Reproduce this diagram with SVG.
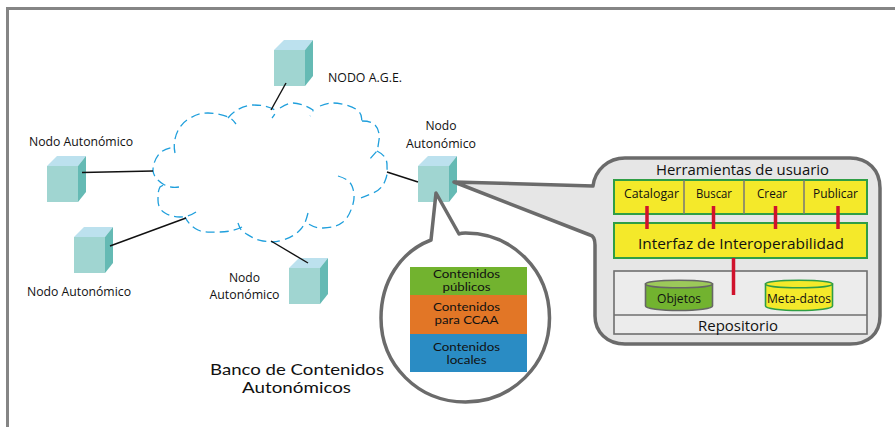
<svg xmlns="http://www.w3.org/2000/svg" width="895" height="427" viewBox="0 0 895 427">
<defs>
<style>
text{font-family:"Open Sans","Noto Sans","Liberation Sans",sans-serif;fill:#111;text-anchor:middle}
.s{font-size:13.5px}
.m{font-size:13.5px}
.c{font-size:11.5px;font-family:"Lato","Open Sans",sans-serif}
.b{font-size:16px;font-family:"Lato","Open Sans",sans-serif}
.f{fill:#a0d5d1}.t{fill:#bce1ee}.r{fill:#65bab4}
.cloud{fill:none;stroke:#1f9fdc;stroke-width:1.3;stroke-dasharray:9 5}
.link{stroke:#111;stroke-width:1.4;fill:none}
.call{fill:#e6e6e6;stroke:#6b6b6b;stroke-width:3.5;stroke-linejoin:round}
.y{fill:#f4e92a;stroke:#2f9e45;stroke-width:2}
.red{stroke:#d0122c;stroke-width:3.500;fill:none}
.g{fill:#ececec;stroke:#6f6f6f;stroke-width:1.6}
</style>
<g id="cube"><rect class="f" x="0" y="10" width="31" height="36"/><path class="t" d="M0 10L10 0H39L31 10Z"/><path class="r" d="M31 10L39 0V36L31 46Z"/></g>
</defs>
<rect width="895" height="427" fill="#fff"/>
<path d="M7.500 427V8.500H895" fill="none" stroke="#858585" stroke-width="3"/>
<g id="cloud">
<path class="cloud" d="M175 153C172 140 178 126 187 120S202 113 208 113S224 115 228 117S233 120 236 124"/>
<path class="cloud" d="M228 118C234 110 245 105 253 105S268 106 275 110C276 113 274 116 272 118"/>
<path class="cloud" d="M280 108C285 105 289 103 293 103S306 105 313 110C313 112 312 114 310 116"/>
<path class="cloud" d="M320 106C325 104 329 103 333 103S351 105 357 110S361 117 362 122"/>
<path class="cloud" d="M362 121C368 121 372 122 375 125S380 134 379 140S378 148 377 151L369 160"/>
<path class="cloud" d="M377 151C383 154 387 158 387 165S388 174 385 181S378 191 373 193S365 197 360 198"/>
<path class="cloud" d="M338 176C345 178 350 181 352 186S355 197 353 204S348 218 343 222S331 228 323 228S312 226 307 223"/>
<path class="cloud" d="M308 213C306 221 304 226 300 230S292 237 283 240S271 242 263 241S250 236 245 233S240 228 238 223"/>
<path class="cloud" d="M242 227C236 230 228 232 220 232S204 233 198 230S188 223 185 217"/>
<path class="cloud" d="M196 212C190 216 185 217 180 217S170 216 165 213S158 206 158 200S158 191 160 187L165 184"/>
<path class="cloud" d="M179 187C173 188 168 187 163 184S153 176 153 170S156 157 160 153S169 148 174 147"/>
</g>
<g id="node-age"><use href="#cube" x="274" y="40"/><text class="s" x="365" y="82" textLength="74" lengthAdjust="spacingAndGlyphs">NODO A.G.E.</text></g>
<g id="node-1"><use href="#cube" x="47" y="156"/><text class="s" x="81" y="146" textLength="104" lengthAdjust="spacingAndGlyphs">Nodo Autonómico</text></g>
<g id="node-2"><use href="#cube" x="74" y="227"/><text class="s" x="79" y="295.500" textLength="104" lengthAdjust="spacingAndGlyphs">Nodo Autonómico</text></g>
<g id="node-3"><use href="#cube" x="289" y="258"/><text class="s" x="244.500" y="282" textLength="31" lengthAdjust="spacingAndGlyphs">Nodo</text><text class="s" x="244.500" y="299" textLength="70" lengthAdjust="spacingAndGlyphs">Autonómico</text></g>
<g id="node-4"><use href="#cube" x="418" y="156"/><text class="s" x="441" y="130" textLength="31" lengthAdjust="spacingAndGlyphs">Nodo</text><text class="s" x="441" y="148" textLength="70" lengthAdjust="spacingAndGlyphs">Autonómico</text></g>
<g id="connectors">
<path class="link" d="M82 172.500L153 171"/>
<path class="link" d="M110 246L186 218"/>
<path class="link" d="M286 83L271 110"/>
<path class="link" d="M387 172L418 182"/>
<path class="link" d="M271 241L308 263"/>
</g>
<g id="banco">
<path class="call" style="fill:#fff" d="M436 193L431 240C400 252 381 282 381 318C381 365 418 402 465.500 402C512 402 549.500 365 549.500 318C549.500 270 512 233 465.500 233C463 233 461 233 459 234Z"/>
<rect x="410" y="267" width="117" height="28" fill="#72b32f"/>
<rect x="410" y="295" width="117" height="39" fill="#e27626"/>
<rect x="410" y="334" width="117" height="38" fill="#2a8cc4"/>
<text class="c" x="466.500" y="278" textLength="67" lengthAdjust="spacingAndGlyphs">Contenidos</text><text class="c" x="466.500" y="291" textLength="48" lengthAdjust="spacingAndGlyphs">públicos</text>
<text class="c" x="466.500" y="311" textLength="67" lengthAdjust="spacingAndGlyphs">Contenidos</text><text class="c" x="466.500" y="324" textLength="64" lengthAdjust="spacingAndGlyphs">para CCAA</text>
<text class="c" x="466.500" y="351" textLength="67" lengthAdjust="spacingAndGlyphs">Contenidos</text><text class="c" x="466.500" y="363.500" textLength="40" lengthAdjust="spacingAndGlyphs">locales</text>
<text class="b" x="297" y="374.500" textLength="174" lengthAdjust="spacingAndGlyphs">Banco de Contenidos</text><text class="b" x="296.500" y="392.500" textLength="109" lengthAdjust="spacingAndGlyphs">Autonómicos</text>
</g>
<g id="panel">
<path class="call" d="M454 182L593 186C595 170 608 158 625 158H850C868 158 880 170 880 188V316C880 334 868 344 850 344H625C607 344 595 332 595 316V245C595 240 594 236 590 235Z"/>
<text x="742.500" y="175" font-size="15" textLength="173" lengthAdjust="spacingAndGlyphs">Herramientas de usuario</text>
<rect class="y" x="614" y="180" width="253" height="34"/>
<path d="M684 180V214M744 180V214M804 180V214" stroke="#777" stroke-width="1.500"/>
<text class="m" x="651.500" y="198" textLength="55" lengthAdjust="spacingAndGlyphs">Catalogar</text><text class="m" x="714" y="198" textLength="36" lengthAdjust="spacingAndGlyphs">Buscar</text><text class="m" x="772" y="198" textLength="30" lengthAdjust="spacingAndGlyphs">Crear</text><text class="m" x="835.500" y="198" textLength="45" lengthAdjust="spacingAndGlyphs">Publicar</text>
<rect class="g" x="614" y="271" width="253" height="63"/>
<path class="g" d="M614 315H867"/>
<rect class="y" x="614" y="223" width="253" height="35"/>
<path class="red" d="M647 206V229M713.500 206V229M775.500 206V229M838 206V229M733.500 258V295"/>
<text x="741" y="249" font-size="15" textLength="206" lengthAdjust="spacingAndGlyphs">Interfaz de Interoperabilidad</text>
<path d="M645.500 284V306A33.500 4.500 0 0 0 712.500 306V284Z" fill="#72b32f" stroke="#666" stroke-width="1.600"/>
<ellipse cx="679" cy="284" rx="33.500" ry="3.800" fill="#9cc95a" stroke="#666" stroke-width="1.600"/>
<text class="m" x="679" y="303" textLength="44" lengthAdjust="spacingAndGlyphs">Objetos</text>
<path d="M765.500 284V306A33.500 4.500 0 0 0 832.500 306V284Z" fill="#f4e92a" stroke="#2f9e45" stroke-width="1.600"/>
<ellipse cx="799" cy="284" rx="33.500" ry="3.800" fill="#f4e92a" stroke="#2f9e45" stroke-width="1.600"/>
<text class="m" x="799" y="303" textLength="64" lengthAdjust="spacingAndGlyphs">Meta-datos</text>
<text x="738" y="331" font-size="15" textLength="80" lengthAdjust="spacingAndGlyphs">Repositorio</text>
</g>
</svg>
